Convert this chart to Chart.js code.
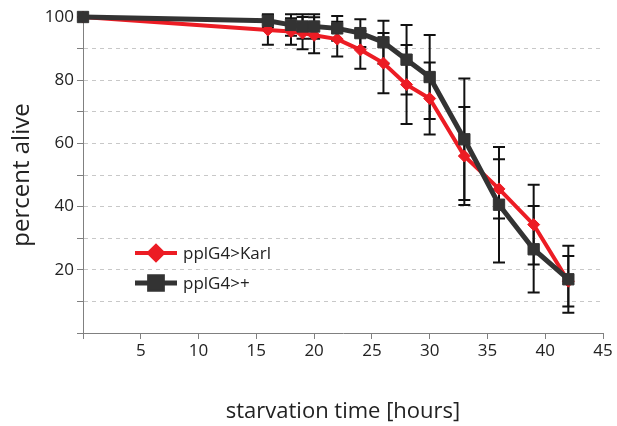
<!DOCTYPE html>
<html>
<head>
<meta charset="utf-8">
<title>Starvation survival</title>
<script src="https://cdn.jsdelivr.net/npm/chart.js@4.4.1/dist/chart.umd.min.js"></script>
<style>
  html, body { margin: 0; padding: 0; background: #fff; }
  #wrap { width: 617px; height: 426px; position: relative; }
</style>
</head>
<body>
<div id="wrap"><canvas id="survivalChart"></canvas></div>
<script>
// survival under starvation, mean +/- error per time point
const hours = [0, 16, 18, 19, 20, 22, 24, 26, 28, 30, 33, 36, 39, 42];

const karlLabel = 'pplG4>Karl';
const karlAlive = [100, 95.9, 95.4, 94.9, 94.2, 93, 89.6, 85.4, 78.6, 74.2, 56, 45.6, 34.3, 16.4];
const karlErr   = [0, 4.7, 4.2, 5.1, 5.7, 5.5, 6, 9.5, 12.5, 11.4, 15.5, 9.4, 12.6, 8];

const ctrlLabel = 'pplG4>+';
const ctrlAlive = [100, 98.8, 97.5, 97, 97, 96.4, 94.9, 92, 86.5, 81, 61.3, 40.6, 26.5, 17];
const ctrlErr   = [0, 2.1, 3.4, 3.9, 3.9, 3.9, 4.4, 6.8, 11, 13.3, 19.2, 18.3, 13.7, 10.6];

const xTicks = [5, 10, 15, 20, 25, 30, 35, 40, 45];
const yTicks = [20, 40, 60, 80, 100];

const RED = '#ec1c24';
const DARK = '#333333';
const AXIS = '#808080';

const toPoints = (ys, errs) => hours.map((h, i) => ({ x: h, y: ys[i], err: errs[i] }));

// error bars go under the lines and markers
const errorBars = {
    id: 'errorBars',
    beforeDatasetsDraw(chart) {
        const { ctx, scales: { x, y } } = chart;
        ctx.save();
        ctx.strokeStyle = '#111';
        ctx.lineWidth = 2;
        chart.data.datasets.forEach(ds => {
            ds.data.forEach(p => {
                if (!p.err) return;
                const px = x.getPixelForValue(p.x);
                const top = y.getPixelForValue(p.y + p.err);
                const bot = y.getPixelForValue(p.y - p.err);
                ctx.beginPath();
                ctx.moveTo(px, top); ctx.lineTo(px, bot);
                ctx.moveTo(px - 6, top); ctx.lineTo(px + 6, top);
                ctx.moveTo(px - 6, bot); ctx.lineTo(px + 6, bot);
                ctx.stroke();
            });
        });
        ctx.restore();
    }
};

// legend sits inside the plot, lower left
const innerLegend = {
    id: 'innerLegend',
    afterDraw(chart) {
        const { ctx } = chart;
        const x0 = 135, x1 = 177, tx = 183;
        let yy = 253;
        chart.data.datasets.forEach(ds => {
            ctx.save();
            ctx.strokeStyle = ds.borderColor;
            ctx.lineWidth = ds.borderWidth;
            ctx.beginPath();
            ctx.moveTo(x0, yy); ctx.lineTo(x1, yy);
            ctx.stroke();
            Chart.helpers.drawPoint(ctx, {
                pointStyle: ds.pointStyle, radius: ds.pointRadius + 1, rotation: 0, borderWidth: 1
            }, (x0 + x1) / 2, yy);
            ctx.fillStyle = ds.backgroundColor;
            ctx.fill();
            ctx.fillStyle = '#222';
            ctx.font = '17px "Open Sans", sans-serif';
            ctx.textBaseline = 'middle';
            ctx.fillText(ds.label, tx, yy + 1);
            ctx.restore();
            yy += 30;
        });
    }
};

new Chart(document.getElementById('survivalChart'), {
    type: 'line',
    data: {
        datasets: [
            {
                label: karlLabel,
                data: toPoints(karlAlive, karlErr),
                borderColor: RED,
                backgroundColor: RED,
                borderWidth: 4,
                pointStyle: 'rectRot',
                pointRadius: 6,
                pointBorderWidth: 1,
                order: 1,
                clip: false
            },
            {
                label: ctrlLabel,
                data: toPoints(ctrlAlive, ctrlErr),
                borderColor: DARK,
                backgroundColor: DARK,
                borderWidth: 5,
                pointStyle: 'rect',
                pointRadius: 8,
                pointBorderWidth: 1,
                order: 0,
                clip: false
            }
        ]
    },
    options: {
        responsive: true,
        maintainAspectRatio: false,
        animation: false,
        layout: { padding: { top: 17, right: 14, left: 0, bottom: 0 } },
        plugins: {
            legend: { display: false },
            tooltip: { enabled: false }
        },
        scales: {
            x: {
                type: 'linear',
                min: 0, max: 45,
                afterFit: s => { s.height = 93; },
                afterBuildTicks: s => { s.ticks = [0, ...xTicks].map(v => ({ value: v })); },
                ticks: {
                    callback: v => (xTicks.includes(v) ? v : ''),
                    color: '#222',
                    font: { family: 'Open Sans', size: 17 },
                    padding: 2,
                    maxRotation: 0
                },
                grid: {
                    drawOnChartArea: false,
                    drawTicks: true,
                    tickLength: 6,
                    tickColor: AXIS
                },
                border: { color: AXIS, width: 1 },
                title: {
                    display: true,
                    text: 'starvation time [hours]',
                    color: '#222',
                    font: { family: 'Open Sans', size: 22 },
                    padding: { top: 0, bottom: 1 }
                }
            },
            y: {
                min: 0, max: 100,
                afterFit: s => { s.width = 83; },
                ticks: {
                    stepSize: 10,
                    callback: v => (yTicks.includes(v) ? v : ''),
                    color: '#222',
                    font: { family: 'Open Sans', size: 17 },
                    padding: 3
                },
                grid: {
                    color: c => (c.tick.value === 0 || c.tick.value === 100 ? 'rgba(0,0,0,0)' : '#c8c8c8'),
                    lineWidth: 1,
                    tickLength: 6,
                    tickColor: AXIS
                },
                border: { color: AXIS, width: 1, dash: [4, 4] },
                title: {
                    display: true,
                    text: 'percent alive',
                    color: '#222',
                    font: { family: 'Open Sans', size: 24 },
                    padding: { top: 8, bottom: 0 }
                }
            }
        }
    },
    plugins: [errorBars, innerLegend]
});
</script>
</body>
</html>
